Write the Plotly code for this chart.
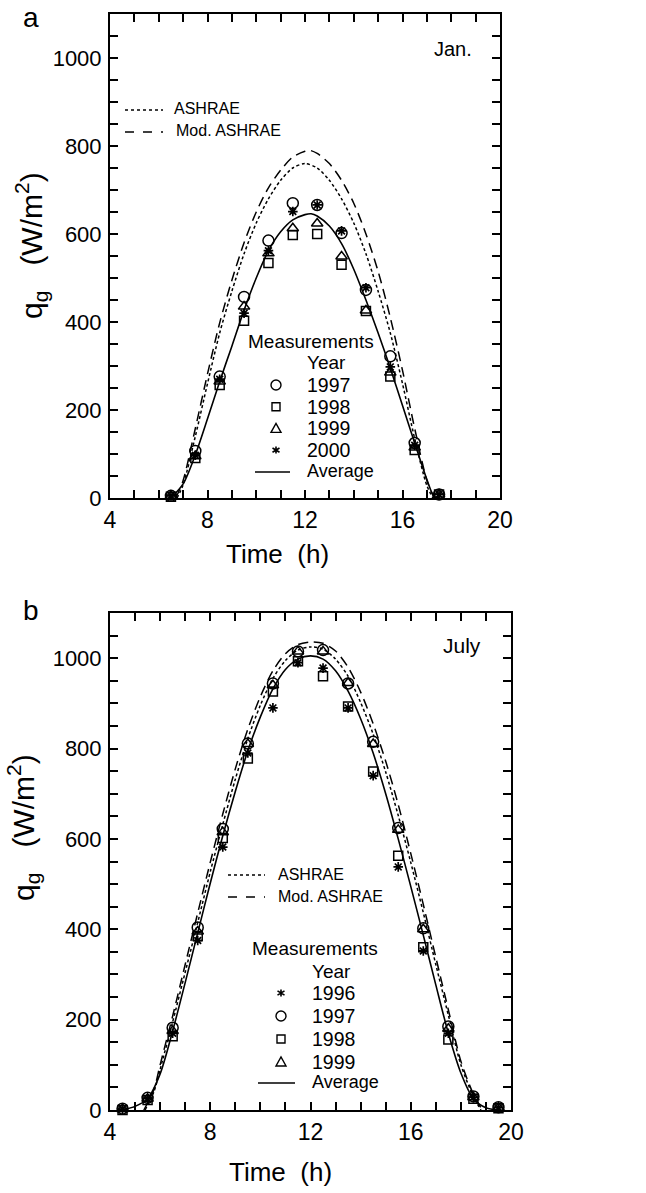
import plotly.graph_objects as go

W, H = 646, 1193

# ---------------- data: panel a (January) ----------------
jan_hours = [6.5, 7.5, 8.5, 9.5, 10.5, 11.5, 12.5, 13.5, 14.5, 15.5, 16.5, 17.5]
jan_1997 = [5, 107, 276, 457, 585, 670, 666, 602, 473, 322, 125, 8]
jan_1998 = [3, 91, 257, 403, 534, 598, 600, 530, 425, 276, 109, 8]
jan_1999 = [5, 95, 265, 435, 556, 613, 624, 549, 426, 285, 115, 8]
jan_2000 = [5, 97, 270, 420, 562, 651, 666, 607, 478, 298, 120, 8]

jan_avg_t = [6.5, 7.0, 7.5, 8.0, 8.5, 9.0, 9.5, 10.0, 10.5, 11.0, 11.5, 12.0, 12.25,
             12.5, 13.0, 13.5, 14.0, 14.5, 15.0, 15.5, 16.0, 16.5, 17.0, 17.3, 17.5]
jan_avg = [0, 32, 98, 180, 265, 345, 427, 500, 562, 605, 632, 644, 646,
           641, 618, 578, 520, 450, 375, 295, 210, 125, 42, 3, 0]

jan_ash_t = [6.75, 7.0, 7.5, 8.0, 8.5, 9.0, 9.5, 10.0, 10.5, 11.0, 11.5, 12.0,
             12.5, 13.0, 13.5, 14.0, 14.5, 15.0, 15.5, 16.0, 16.5, 17.0, 17.25]
jan_ash = [0, 30, 140, 260, 375, 470, 555, 625, 680, 722, 750, 760,
           750, 722, 680, 625, 555, 470, 375, 260, 135, 28, 0]

jan_mod_t = [6.7, 7.0, 7.5, 8.0, 8.5, 9.0, 9.5, 10.0, 10.5, 11.0, 11.5, 12.0, 12.2,
             12.5, 13.0, 13.5, 14.0, 14.5, 15.0, 15.5, 16.0, 16.5, 17.0, 17.3]
jan_mod = [0, 40, 158, 282, 398, 495, 580, 650, 705, 745, 775, 788, 790,
           783, 760, 722, 670, 600, 515, 410, 290, 158, 40, 0]

# ---------------- data: panel b (July) ----------------
jul_hours = [4.5, 5.5, 6.5, 7.5, 8.5, 9.5, 10.5, 11.5, 12.5, 13.5, 14.5, 15.5,
             16.5, 17.5, 18.5, 19.5]
jul_1996 = [2, 25, 170, 375, 582, 790, 890, 990, 978, 890, 740, 538, 352, 170, 28, 5]
jul_1997 = [3, 27, 182, 404, 622, 811, 944, 1015, 1018, 944, 815, 624, 402, 185, 30, 6]
jul_1998 = [0, 22, 163, 385, 602, 778, 926, 993, 960, 893, 749, 563, 360, 156, 25, 4]
jul_1999 = [2, 25, 175, 395, 615, 810, 940, 1015, 1015, 945, 810, 620, 400, 180, 28, 5]

jul_avg_t = [4.5, 5.0, 5.5, 6.0, 6.5, 7.0, 7.5, 8.0, 8.5, 9.0, 9.5, 10.0, 10.5, 11.0,
             11.5, 12.0, 12.5, 13.0, 13.5, 14.0, 14.5, 15.0, 15.5, 16.0, 16.5, 17.0,
             17.5, 18.0, 18.5, 19.0, 19.5]
jul_avg = [0, 8, 25, 80, 175, 282, 392, 502, 607, 705, 795, 870, 932, 975,
           998, 1005, 998, 972, 927, 866, 790, 700, 600, 495, 387, 277,
           170, 82, 25, 5, 0]

jul_ash_t = [5.4, 5.75, 6.0, 6.5, 7.0, 7.5, 8.0, 8.5, 9.0, 9.5, 10.0, 10.5, 11.0,
             11.5, 12.0, 12.5, 13.0, 13.5, 14.0, 14.5, 15.0, 15.5, 16.0, 16.5,
             17.0, 17.5, 18.0, 18.5, 18.8]
jul_ash = [0, 40, 90, 195, 305, 415, 527, 632, 732, 822, 896, 955, 995,
           1018, 1025, 1020, 998, 960, 902, 832, 748, 652, 548, 437,
           322, 210, 100, 30, 0]

jul_mod_t = [5.35, 5.75, 6.0, 6.5, 7.0, 7.5, 8.0, 8.5, 9.0, 9.5, 10.0, 10.5, 11.0,
             11.5, 12.0, 12.5, 13.0, 13.5, 14.0, 14.5, 15.0, 15.5, 16.0, 16.5,
             17.0, 17.5, 18.0, 18.5, 18.85]
jul_mod = [0, 45, 100, 208, 322, 436, 548, 655, 755, 843, 915, 972, 1010,
           1030, 1036, 1033, 1016, 980, 925, 855, 772, 676, 568, 455,
           338, 222, 108, 35, 0]

x_ticks = [4, 8, 12, 16, 20]
y_ticks = [0, 200, 400, 600, 800, 1000]

FONT = "Liberation Sans, Arial, sans-serif"


def px(x):
    return x / W


def py(y):
    return 1 - y / H


fig = go.Figure()

# panel geometry (pixels)
A = dict(l=110, r=500, t=14, b=498)
B = dict(l=110, r=511, t=613, b=1110)

marker_styles = {
    "circle": dict(symbol="circle-open", size=11, color="black", line=dict(width=1.5, color="black")),
    "square": dict(symbol="square-open", size=9, color="black", line=dict(width=1.5, color="black")),
    "triangle": dict(symbol="triangle-up-open", size=10, color="black", line=dict(width=1.5, color="black")),
    "star": dict(symbol="asterisk-open", size=8, color="black", line=dict(width=1.7, color="black")),
}


def add_panel(xa, ya, ash_t, ash, mod_t, mod, avg_t, avg, hours, series):
    fig.add_trace(go.Scatter(x=ash_t, y=ash, mode="lines", xaxis=xa, yaxis=ya,
                             line=dict(color="black", width=1.5, dash="3px,2.5px", shape="spline", smoothing=0.8),
                             showlegend=False, hoverinfo="skip"))
    fig.add_trace(go.Scatter(x=mod_t, y=mod, mode="lines", xaxis=xa, yaxis=ya,
                             line=dict(color="black", width=1.5, dash="10px,6px", shape="spline", smoothing=0.8),
                             showlegend=False, hoverinfo="skip"))
    fig.add_trace(go.Scatter(x=avg_t, y=avg, mode="lines", xaxis=xa, yaxis=ya,
                             line=dict(color="black", width=1.6, shape="spline", smoothing=0.8),
                             showlegend=False, hoverinfo="skip"))
    for kind, vals in series:
        fig.add_trace(go.Scatter(x=hours, y=vals, mode="markers", xaxis=xa, yaxis=ya,
                                 marker=marker_styles[kind], cliponaxis=False,
                                 showlegend=False, hoverinfo="skip"))


add_panel("x", "y", jan_ash_t, jan_ash, jan_mod_t, jan_mod, jan_avg_t, jan_avg, jan_hours,
          [("circle", jan_1997), ("square", jan_1998), ("triangle", jan_1999), ("star", jan_2000)])
add_panel("x2", "y2", jul_ash_t, jul_ash, jul_mod_t, jul_mod, jul_avg_t, jul_avg, jul_hours,
          [("star", jul_1996), ("circle", jul_1997), ("square", jul_1998), ("triangle", jul_1999)])


def xaxis_cfg(P, anchor):
    return dict(domain=[px(P["l"]), px(P["r"])], range=[4, 20], anchor=anchor, automargin=False,
                tickvals=x_ticks, ticktext=[str(v) for v in x_ticks],
                ticks="inside", ticklen=8, tickwidth=1.5, tickcolor="black",
                minor=dict(dtick=1, ticks="inside", ticklen=8, tickwidth=1.5, tickcolor="black",
                           showgrid=False),
                showline=True, linewidth=2, linecolor="black", mirror="allticks",
                showgrid=False, zeroline=False, ticklabelstandoff=0,
                tickfont=dict(family=FONT, size=23, color="black"))


def yaxis_cfg(P, anchor):
    return dict(domain=[py(P["b"]), py(P["t"])], range=[0, 1100], anchor=anchor, automargin=False,
                tickvals=y_ticks, ticktext=[str(v) for v in y_ticks],
                ticks="inside", ticklen=8, tickwidth=1.5, tickcolor="black",
                minor=dict(dtick=50, ticks="inside", ticklen=8, tickwidth=1.5, tickcolor="black",
                           showgrid=False),
                showline=True, linewidth=2, linecolor="black", mirror="allticks",
                showgrid=False, zeroline=False, ticklabelstandoff=2,
                tickfont=dict(family=FONT, size=22, color="black"))


fig.update_layout(
    template="none",
    width=W, height=H, margin=dict(l=0, r=0, t=0, b=0, autoexpand=False),
    paper_bgcolor="white", plot_bgcolor="white", showlegend=False,
    xaxis=xaxis_cfg(A, "y"), yaxis=yaxis_cfg(A, "x"),
    xaxis2=xaxis_cfg(B, "y2"), yaxis2=yaxis_cfg(B, "x2"),
)

ann = []
shapes = []


def text(x, y, s, size, xanchor="left", angle=0):
    ann.append(dict(x=px(x), y=py(y), xref="paper", yref="paper", text=s, showarrow=False,
                    xanchor=xanchor, yanchor="middle", textangle=angle,
                    font=dict(family=FONT, size=size, color="black")))


def hline(x0, x1, y, dash="solid"):
    shapes.append(dict(type="line", xref="paper", yref="paper", x0=px(x0), x1=px(x1),
                       y0=py(y), y1=py(y), line=dict(color="black", width=1.5, dash=dash)))


def sym(kind, x, y):
    if kind == "circle":
        shapes.append(dict(type="circle", xref="paper", yref="paper", x0=px(x - 5), x1=px(x + 5),
                           y0=py(y + 5), y1=py(y - 5), line=dict(color="black", width=1.4)))
    elif kind == "square":
        shapes.append(dict(type="rect", xref="paper", yref="paper", x0=px(x - 4), x1=px(x + 4),
                           y0=py(y + 4), y1=py(y - 4), line=dict(color="black", width=1.4)))
    elif kind == "triangle":
        path = f"M {px(x-5)} {py(y+4)} L {px(x+5)} {py(y+4)} L {px(x)} {py(y-5)} Z"
        shapes.append(dict(type="path", xref="paper", yref="paper", path=path,
                           line=dict(color="black", width=1.4)))
    elif kind == "star":
        r = 3.5
        path = (f"M {px(x)} {py(y-r)} L {px(x)} {py(y+r)} "
                f"M {px(x-r)} {py(y-r*0.6)} L {px(x+r)} {py(y+r*0.6)} "
                f"M {px(x-r)} {py(y+r*0.6)} L {px(x+r)} {py(y-r*0.6)}")
        shapes.append(dict(type="path", xref="paper", yref="paper", path=path,
                           line=dict(color="black", width=1.6)))


# panel labels
text(21, 17, "a", 28)
text(21, 610, "b", 28)

# month labels
text(453, 49, "Jan.", 20, xanchor="center")
text(462, 645, "July", 21, xanchor="center")

# axis titles
text(277, 554, "Time  (h)", 26, xanchor="center")
text(280, 1172, "Time  (h)", 26, xanchor="center")
text(31, 246, "q<sub>g</sub>   (W/m<sup>2</sup>)", 30, xanchor="center", angle=-90)
text(23, 828, "q<sub>g</sub>   (W/m<sup>2</sup>)", 30, xanchor="center", angle=-90)

# legend panel a
hline(125, 163, 110, "dot")
text(172, 109, "ASHRAE", 16)
hline(125, 163, 132, "dash")
text(174, 131, "Mod. ASHRAE", 16)
text(246, 341, "Measurements", 19)
text(305, 362, "Year", 19)
for i, (k, yr) in enumerate([("circle", "1997"), ("square", "1998"), ("triangle", "1999"), ("star", "2000")]):
    yy = 385 + i * 21.7
    sym(k, 276, yy)
    text(305, yy, yr, 19.5)
hline(255, 290, 472)
text(305, 471, "Average", 18)

# legend panel b
hline(228, 265, 875, "dot")
text(276, 874, "ASHRAE", 16)
hline(228, 265, 897, "dash")
text(276, 896, "Mod. ASHRAE", 16)
text(250, 948, "Measurements", 19)
text(310, 971, "Year", 19)
for i, (k, yr) in enumerate([("star", "1996"), ("circle", "1997"), ("square", "1998"), ("triangle", "1999")]):
    yy = 993 + i * 23
    sym(k, 281, yy)
    text(310, yy, yr, 19.5)
hline(258, 295, 1083)
text(310, 1082, "Average", 18)

fig.update_layout(annotations=ann, shapes=shapes)

fig.write_html("out.html", config={"displayModeBar": False},
               post_script="document.body.style.margin='0px';")
